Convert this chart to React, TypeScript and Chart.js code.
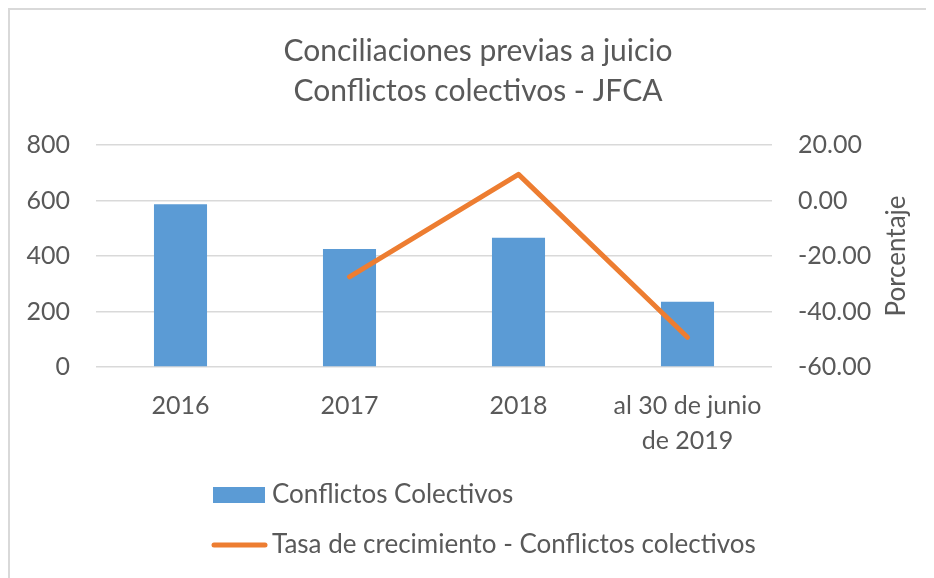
import React, { useEffect, useRef } from 'react';
import { Chart, registerables } from 'chart.js';

Chart.register(...registerables);

const categories: (string | string[])[] = ['2016', '2017', '2018', ['al 30 de junio', 'de 2019']];
const conflictosColectivos = [586, 425, 466, 235];
const tasaCrecimiento: (number | null)[] = [null, -27.5, 9.4, -49.3];
const leftTicks = [0, 200, 400, 600, 800];
const rightTicks = [-60, -40, -20, 0, 20];
const titleLines = ['Conciliaciones previas a juicio', 'Conflictos colectivos - JFCA'];
const seriesNames = ['Conflictos Colectivos', 'Tasa de crecimiento - Conflictos colectivos'];
const rightAxisTitle = 'Porcentaje';

const TEXT = '#595959';
const GRID = '#d9d9d9';
const BLUE = '#5b9bd5';
const ORANGE = '#ed7d31';
const FONT = 'Lato';

const extrasPlugin = {
  id: 'extras',
  afterDraw(chart: any) {
    const ctx = chart.ctx as CanvasRenderingContext2D;
    const area = chart.chartArea;
    ctx.save();
    // right axis title, reading bottom-to-top
    ctx.font = `26px ${FONT}`;
    ctx.fillStyle = TEXT;
    ctx.textAlign = 'center';
    ctx.textBaseline = 'middle';
    ctx.translate(area.right + 125, (area.top + area.bottom) / 2);
    ctx.rotate(-Math.PI / 2);
    ctx.fillText(rightAxisTitle, 0, 0);
    ctx.restore();

    // legend
    ctx.save();
    const x0 = area.left + 117;
    const rows = [area.bottom + 128, area.bottom + 178];
    const barDs = chart.data.datasets[1];
    const lineDs = chart.data.datasets[0];
    ctx.fillStyle = barDs.backgroundColor;
    ctx.fillRect(x0, rows[0] - 8, 52, 16);
    ctx.strokeStyle = lineDs.borderColor;
    ctx.lineWidth = 5;
    ctx.lineCap = 'round';
    ctx.beginPath();
    ctx.moveTo(x0 + 1, rows[1]);
    ctx.lineTo(x0 + 52, rows[1]);
    ctx.stroke();
    ctx.font = `26px ${FONT}`;
    ctx.fillStyle = TEXT;
    ctx.textAlign = 'left';
    ctx.textBaseline = 'middle';
    ctx.fillText(barDs.label, x0 + 59, rows[0]);
    ctx.fillText(lineDs.label, x0 + 59, rows[1]);
    ctx.restore();
  },
};

export default function App() {
  const ref = useRef<HTMLCanvasElement | null>(null);

  useEffect(() => {
    if (!ref.current) return;
    const chart = new Chart(ref.current, {
      type: 'bar',
      data: {
        labels: categories as any,
        datasets: [
          {
            type: 'line',
            label: seriesNames[1],
            data: tasaCrecimiento,
            yAxisID: 'y1',
            borderColor: ORANGE,
            backgroundColor: ORANGE,
            borderWidth: 5,
            borderCapStyle: 'round',
            borderJoinStyle: 'round',
            pointRadius: 0,
            pointHoverRadius: 0,
            spanGaps: false,
            order: 0,
          } as any,
          {
            type: 'bar',
            label: seriesNames[0],
            data: conflictosColectivos,
            yAxisID: 'y',
            backgroundColor: BLUE,
            borderWidth: 0,
            barPercentage: 0.314,
            categoryPercentage: 1,
            order: 1,
          } as any,
        ],
      },
      options: {
        animation: false,
        responsive: true,
        maintainAspectRatio: false,
        layout: { padding: { left: 12, right: 0, top: 0, bottom: 0 } },
        plugins: {
          legend: { display: false },
          tooltip: { enabled: false },
          title: {
            display: true,
            text: titleLines,
            color: TEXT,
            font: { family: FONT, size: 30, weight: 'normal', lineHeight: 1.333 },
            padding: { top: 21, bottom: 34 },
          },
        },
        scales: {
          x: {
            grid: { display: false, drawTicks: false },
            border: { display: false },
            ticks: {
              color: TEXT,
              font: { family: FONT, size: 25, lineHeight: 1.4 },
              padding: 21,
              maxRotation: 0,
              autoSkip: false,
            },
            afterFit(scale: any) {
              scale.height = 211;
            },
          },
          y: {
            position: 'left',
            min: leftTicks[0],
            max: leftTicks[leftTicks.length - 1],
            afterBuildTicks(scale: any) {
              scale.ticks = leftTicks.map((v) => ({ value: v }));
            },
            grid: { color: GRID, lineWidth: 1.5, drawTicks: false },
            border: { display: false },
            ticks: {
              color: TEXT,
              font: { family: FONT, size: 25 },
              padding: 26,
            },
            afterFit(scale: any) {
              scale.width = 74;
            },
          },
          y1: {
            position: 'right',
            min: rightTicks[0],
            max: rightTicks[rightTicks.length - 1],
            afterBuildTicks(scale: any) {
              scale.ticks = rightTicks.map((v) => ({ value: v }));
            },
            grid: { display: false, drawTicks: false },
            border: { display: false },
            ticks: {
              color: TEXT,
              font: { family: FONT, size: 25 },
              padding: 26,
              callback: (v: any) => Number(v).toFixed(2),
            },
            afterFit(scale: any) {
              scale.width = 162;
            },
          },
        },
      },
      plugins: [extrasPlugin],
    });
    return () => chart.destroy();
  }, []);

  return (
    <div
      style={{
        width: 926,
        height: 570,
        boxSizing: 'border-box',
        borderLeft: `2px solid ${GRID}`,
        borderTop: `2px solid ${GRID}`,
        position: 'relative',
        overflow: 'hidden',
      }}
    >
      <div style={{ position: 'absolute', left: 0, top: 0, width: 924, height: 568 }}>
        <canvas ref={ref} />
      </div>
    </div>
  );
}
